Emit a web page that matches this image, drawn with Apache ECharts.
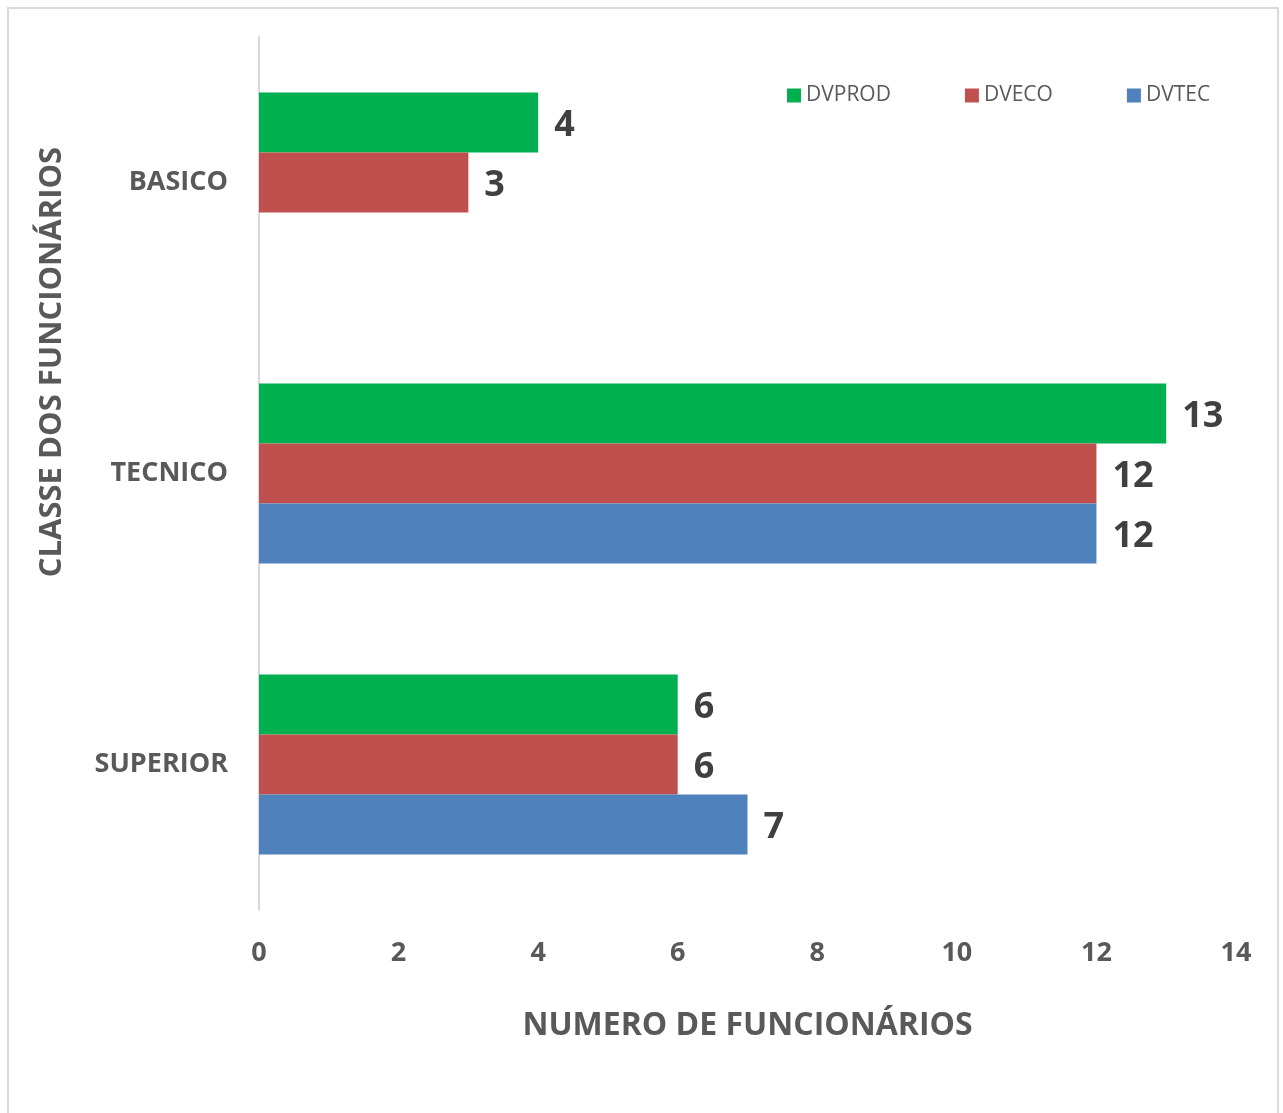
<!DOCTYPE html>
<html>
<head>
<meta charset="utf-8">
<script src="https://cdn.jsdelivr.net/npm/echarts@6/dist/echarts.min.js"></script>
<style>
html,body{margin:0;padding:0;background:#fff;}
#frame{position:absolute;left:7px;top:7px;width:1272px;height:1110px;border:2px solid #d9d9d9;box-sizing:border-box;}
#chart{position:absolute;left:0;top:0;width:1283px;height:1113px;}
</style>
</head>
<body>
<div id="frame"></div>
<div id="chart"></div>
<script>
const categories = ['BASICO', 'TECNICO', 'SUPERIOR'];
const dvprod = [4, 13, 6];
const dveco = [3, 12, 6];
const dvtec = [null, 12, 7];
const xTicks = [0, 2, 4, 6, 8, 10, 12, 14];

const FONT = '"Open Sans", "Noto Sans", sans-serif';
const chart = echarts.init(document.getElementById('chart'));
const labelCfg = {
  show: true, position: 'right', distance: 16, offset: [0, 3],
  fontFamily: FONT, fontWeight: 'bold', fontSize: 36, color: '#404040'
};
function mk(name, data, color) {
  return {
    name: name, type: 'bar', data: data, barWidth: 60, barGap: '0%',
    itemStyle: { color: color }, label: labelCfg
  };
}
chart.setOption({
  animation: false,
  textStyle: { fontFamily: FONT },
  grid: { left: 259, right: 47, top: 37, bottom: 203 },
  legend: {
    left: 782, top: 80, itemWidth: 14, itemHeight: 14, itemGap: 74,
    icon: 'rect',
    textStyle: { fontFamily: FONT, fontSize: 21, color: '#595959' },
    data: ['DVPROD', 'DVECO', 'DVTEC']
  },
  xAxis: {
    type: 'value', min: xTicks[0], max: xTicks[xTicks.length - 1], interval: 2,
    splitLine: { show: false },
    axisLine: { show: false }, axisTick: { show: false },
    axisLabel: { margin: 30, fontFamily: FONT, fontWeight: 'bold', fontSize: 27, color: '#595959' },
    name: 'NUMERO DE FUNCIONÁRIOS', nameLocation: 'middle', nameGap: 100,
    nameTextStyle: { fontFamily: FONT, fontWeight: 'bold', fontSize: 32, color: '#595959' }
  },
  yAxis: {
    type: 'category', data: categories, inverse: true,
    axisLine: { show: true, lineStyle: { color: '#d9d9d9', width: 2 } },
    axisTick: { show: false },
    axisLabel: { margin: 31, fontFamily: FONT, fontWeight: 'bold', fontSize: 27, color: '#595959' }
  },
  graphic: [{
    type: 'text', x: 52, y: 362, rotation: Math.PI / 2,
    style: {
      text: 'CLASSE DOS FUNCIONÁRIOS', textAlign: 'center', textVerticalAlign: 'middle',
      font: 'bold 31px ' + FONT, fill: '#595959'
    }
  }],
  series: [
    mk('DVPROD', dvprod, '#00B050'),
    mk('DVECO', dveco, '#C0504D'),
    mk('DVTEC', dvtec, '#4F81BD')
  ]
});
</script>
</body>
</html>
